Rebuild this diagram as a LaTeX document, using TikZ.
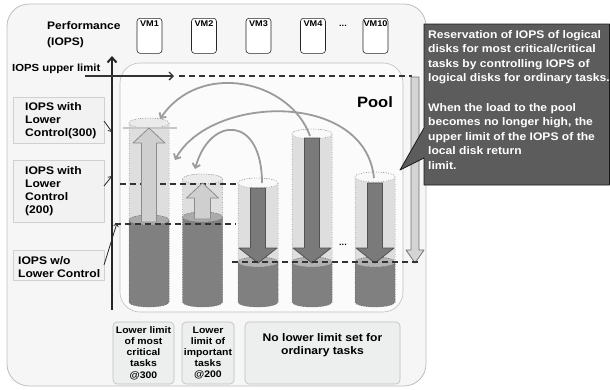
\documentclass[tikz,border=0pt]{standalone}
\usepackage{fontspec}
\setmainfont{Liberation Sans}[FakeStretch=1.1]
\usepackage{tikz}
\usetikzlibrary{arrows.meta}
\definecolor{panelfill}{HTML}{F6F6F6}
\definecolor{panelline}{HTML}{BEBEBE}
\definecolor{sidefill}{HTML}{F2F2F2}
\definecolor{sideline}{HTML}{D0D0D0}
\definecolor{footfill}{HTML}{EDEEEE}
\definecolor{lightbody}{HTML}{DEDEDE}
\definecolor{lightlid}{HTML}{EBEBEB}
\definecolor{darkbody}{HTML}{808080}
\definecolor{darklid}{HTML}{ABABAB}
\definecolor{curve}{HTML}{9B9B9B}
\definecolor{notefill}{HTML}{5C5C5C}
\tikzset{
every picture/.style={x=1pt, y=-1pt, line join=round},
lbl/.style={font=\fontsize{11}{13}\selectfont\bfseries, inner sep=0pt, align=left},
sidebox/.style={draw=sideline, fill=sidefill, line width=0.6pt},
footbox/.style={draw=panelline, fill=footfill, rounded corners=4pt, line width=0.6pt, align=center, inner sep=0pt},
vmbox/.style={draw=black!85, fill=white, rounded corners=3pt, line width=0.6pt, minimum width=25pt, minimum height=35pt},
tankline/.style={draw=black!65, dotted, line width=0.5pt},
level/.style={draw=black!80, line width=1.5pt, dash pattern=on 6pt off 4pt},
uparr/.style={fill=black!19, draw=black!45, line width=0.8pt},
downarr/.style={fill=black!52, draw=black!68, line width=0.8pt},
movecurve/.style={draw=curve, line width=1.8pt, -{Straight Barb[length=4pt, width=8pt]}},
tick/.style={draw=black!85, line width=0.8pt, -{Straight Barb[length=3pt, width=5pt]}}
}
% one tank: x, top, bottom, body colour, lid colour
\newcommand\tank[5]{%
  \draw[tankline, fill=#4] (#1-20,#2) -- (#1-20,#3) arc (180:0:20 and 5) -- (#1+20,#2) arc (0:-180:20 and 5) -- cycle;
  \draw[tankline, fill=#5] (#1,#2) ellipse (20 and 5);
}
% block arrow: x, start, head base, tip, shaft half, head half, style
\newcommand\blockarrow[7]{%
  \draw[#7] (#1-#5,#2) -- (#1-#5,#3) -- (#1-#6,#3) -- (#1,#4) -- (#1+#6,#3) -- (#1+#5,#3) -- (#1+#5,#2) -- cycle;
}

\begin{document}
\begin{tikzpicture}
  \useasboundingbox (0,0) rectangle (610,389);
  \fill[white] (0,0) rectangle (610,389);
  \draw[draw=panelline, fill=panelfill, rounded corners=22pt, line width=0.8pt] (7,4) rectangle (426,386);
  \draw[draw=black!25, fill=white!60!panelfill, rounded corners=20pt, line width=0.6pt] (120,63) rectangle (403,312);

  % VMs
  \node[lbl, anchor=north west, font=\fontsize{10.9}{16}\selectfont\bfseries] (perf) at (47,21) {Performance\\(IOPS)};
  \foreach \x/\n in {149.5/1, 204/2, 258.5/3, 313/4, 375.5/10} {
    \node[vmbox, anchor=north] (vm\n) at (\x,18) {};
    \node[lbl, font=\fontsize{8.3}{9}\selectfont\bfseries] (vmlbl\n) at ([yshift=-6pt]vm\n.north) {VM\n};
  }
  \node[lbl, font=\fontsize{8.3}{9}\selectfont\bfseries] (vmdots) at (343,26) {...};

  % axis and levels
  \coordinate (axbot) at (112,310);
  \coordinate (axtop) at (112,56);
  \draw[draw=black!85, line width=2pt, -{Straight Barb[length=5pt, width=9pt]}] (axbot) -- (axtop);
  \node[lbl, anchor=west, font=\fontsize{10.3}{12}\selectfont\bfseries] (upper) at (12,69) {IOPS upper limit};
  \coordinate (upstart) at (85,76);
  \coordinate (upend) at (174,76);
  \draw[draw=black!80, line width=1.3pt, -{Straight Barb[length=4pt, width=8pt]}] (upstart) -- (upend);
  \draw[level] (179,76) -- (412,76);
  \node[lbl, font=\fontsize{15}{16}\selectfont\bfseries] (pool) at (375,102) {Pool};

  % left labels
  \node[sidebox, anchor=north west, minimum width=91pt, minimum height=46pt] (lc300) at (13,97) {};
  \node[lbl, anchor=west] (lc300txt) at ([xshift=12pt]lc300.west) {IOPS with\\Lower\\Control(300)};
  \node[sidebox, anchor=north west, minimum width=91pt, minimum height=62pt] (lc200) at (13,160) {};
  \node[lbl, anchor=west] (lc200txt) at ([xshift=12pt]lc200.west) {IOPS with\\Lower\\Control\\(200)};
  \node[sidebox, anchor=north west, minimum width=91pt, minimum height=30pt] (nolc) at (13,250) {};
  \node[lbl, anchor=west] (nolctxt) at ([xshift=5pt,yshift=-1.5pt]nolc.west) {IOPS w/o\\Lower Control};
  \coordinate (ax300) at (112,132);
  \coordinate (ax200) at (112,176);
  \coordinate (axlow) at (117,223);
  \draw[tick] (104,121) -- (ax300);
  \draw[tick] (104,186) -- (ax200);
  \draw[tick] (104,265) -- (axlow);

  % tanks
  \tank{149}{123}{302}{lightbody}{lightlid}
  \tank{149}{220}{302}{darkbody}{darklid}
  \tank{202.5}{179}{302}{lightbody}{lightlid}
  \tank{202.5}{217}{302}{darkbody}{darklid}
  \foreach \x/\t in {258/183, 312/134, 375/177} {
    \tank{\x}{\t}{302}{lightbody}{white!70!lightlid}
    \tank{\x}{262}{302}{darkbody}{black!30}
  }
  \draw[draw=black!22, line width=1.2pt] (123,128) -- (177,128);
  \draw[level] (120,184) -- (236,184);
  \draw[level] (115,224) -- (236,224);
  \blockarrow{149}{222}{143}{128}{7.5}{16}{uparr}
  \blockarrow{202.5}{219}{198}{183}{8}{16}{uparr}
  \blockarrow{258}{188}{248}{263}{7.5}{19}{downarr}
  \blockarrow{312}{138}{248}{263}{7.5}{19}{downarr}
  \blockarrow{375}{183}{248}{263}{7.5}{19}{downarr}
  \blockarrow{415}{77}{250}{263}{4}{9}{fill=black!17, draw=black!55, line width=0.8pt}
  \draw[level] (232,262) -- (420,262);
  \node[lbl, font=\fontsize{8.3}{9}\selectfont\bfseries] (tankdots) at (343,245) {...};

  % moves between tanks
  \coordinate (c1in) at (160,119);
  \coordinate (c2in) at (175,160);
  \coordinate (c2low) at (195,169);
  \coordinate (c3out) at (262,183);
  \coordinate (c4out) at (310,136);
  \coordinate (c5out) at (374,178);
  \draw[movecurve] (c4out) .. controls (290,80) and (200,60) .. (c1in);
  \draw[movecurve] (c5out) .. controls (365,90) and (210,95) .. (c2in);
  \draw[movecurve] (c3out) .. controls (262,115) and (210,115) .. (c2low);

  % lower limits
  \node[footbox, minimum width=61pt, minimum height=62pt, font=\fontsize{9.5}{11.2}\selectfont\bfseries] (low300) at (143.5,353) {Lower limit\\of most\\critical\\tasks\\@300};
  \node[footbox, minimum width=52pt, minimum height=62pt, font=\fontsize{9.5}{11.2}\selectfont\bfseries] (low200) at (208,353) {Lower\\limit of\\important\\tasks\\@200};
  \node[footbox, minimum width=155pt, minimum height=62pt, font=\fontsize{11}{13}\selectfont\bfseries] (lownone) at (322.5,353) {No lower limit set for\\ordinary tasks\\[5pt]};

  % note
  \draw[fill=notefill, draw=black!90, line width=0.8pt] (424,24) -- (609.5,24) -- (609.5,185) -- (424,185) -- (424,158) -- (400,170) -- (424,128) -- cycle;
  \node[lbl, anchor=north west, text=white, font=\fontsize{11}{14.5}\selectfont\bfseries] (note) at (428,30) {Reservation of IOPS of logical\\disks for most critical/critical\\tasks by controlling IOPS of\\logical disks for ordinary tasks.\\[15pt]When the load to the pool\\becomes no longer high, the\\upper limit of the IOPS of the\\local disk return\\limit.};
\end{tikzpicture}
\end{document}
